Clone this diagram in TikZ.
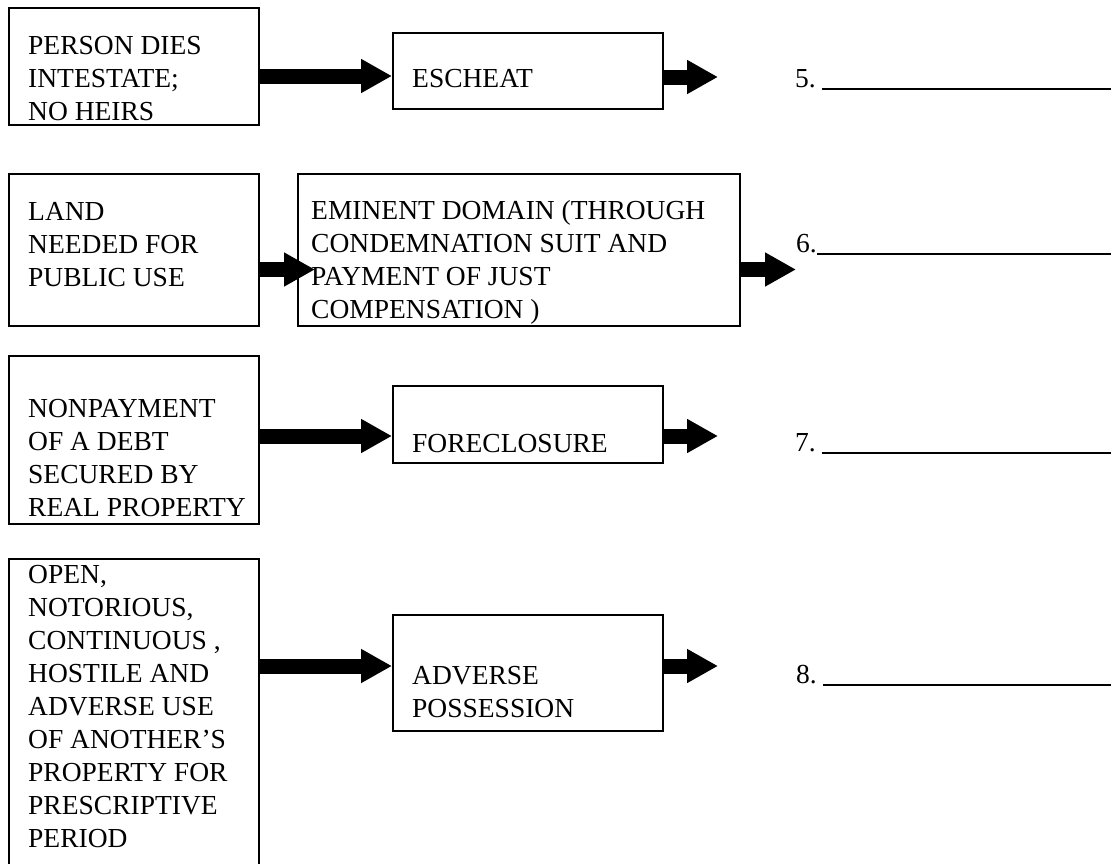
\documentclass[tikz,border=0pt]{standalone}
\usepackage{fontspec}
\setmainfont{Liberation Serif}
\usetikzlibrary{arrows.meta}
\begin{document}
\begin{tikzpicture}[x=1pt,y=-1pt,
  box/.style={draw, line width=1.6pt, inner sep=0pt, anchor=north west},
  txt/.style={anchor=base west, inner sep=0pt, align=left,
    font=\fontsize{27.5}{32.7}\selectfont},
  fat/.style={line width=15pt, -{Triangle[length=31pt,width=32pt]}}]
\useasboundingbox (0,0) rectangle (1111,863);
\clip (0,0) rectangle (1111,863);
\fill[white] (0,0) rectangle (1111,863);

% boxes
\node[box, minimum width=250pt, minimum height=117pt] (b1) at (8,7) {};
\node[box, minimum width=270pt, minimum height=76pt] (esc) at (392,32) {};
\node[box, minimum width=250pt, minimum height=152pt] (land) at (8,173) {};
\node[box, minimum width=442pt, minimum height=152pt] (emin) at (297,173) {};
\node[box, minimum width=250pt, minimum height=168pt] (nonpay) at (8,355) {};
\node[box, minimum width=270pt, minimum height=77pt] (fore) at (392,385) {};
\node[box, minimum width=250pt, minimum height=320pt] (open) at (8,558) {};
\node[box, minimum width=270pt, minimum height=116pt] (adv) at (392,614) {};

% texts (anchored at the baseline of their last line)
\node[txt] (tb1) at (28,120) {PERSON DIES\\INTESTATE;\\NO HEIRS};
\node[txt] (tesc) at (412,87) {ESCHEAT};
\node[txt] (tland) at (28,286) {LAND\\NEEDED FOR\\PUBLIC USE};
\node[txt] (temin) at (311,318) {EMINENT DOMAIN (THROUGH\\CONDEMNATION SUIT AND\\PAYMENT OF JUST\\COMPENSATION )};
\node[txt] (tnon) at (28,516) {NONPAYMENT\\OF A DEBT\\SECURED BY\\REAL PROPERTY};
\node[txt] (tfore) at (412,452) {FORECLOSURE};
\node[txt, font=\fontsize{27.5}{33}\selectfont] (topen) at (28,847) {OPEN,\\NOTORIOUS,\\CONTINUOUS ,\\HOSTILE AND\\ADVERSE USE\\OF ANOTHER’S\\PROPERTY FOR\\PRESCRIPTIVE\\PERIOD};
\node[txt] (tadv) at (412,717) {ADVERSE\\POSSESSION};

% answer blanks
\node[txt] (l5) at (795,87) {5.\hspace{6pt}\rule[-2.5pt]{289pt}{1.2pt}};
\node[txt] (l6) at (796,252) {6.\rule[-2.5pt]{294pt}{1.2pt}};
\node[txt] (l7) at (795,451) {7.\hspace{6pt}\rule[-2.5pt]{289pt}{1.2pt}};
\node[txt] (l8) at (796,683) {8.\hspace{6pt}\rule[-2.5pt]{289pt}{1.2pt}};

% free arrow ends
\coordinate (e1) at (718,77);
\coordinate (i2) at (315,269.5);
\coordinate (e2) at (796,269.5);
\coordinate (e3) at (718,436);
\coordinate (e4) at (718,666);

% arrows
\draw[fat] (b1.east |- 0,76) -- (esc.west |- 0,76);
\draw[fat] (esc.east |- e1) -- (e1);
\draw[fat] (land.east |- i2) -- (i2);
\draw[fat] (emin.east |- e2) -- (e2);
\draw[fat] (nonpay.east |- 0,436) -- (fore.west |- 0,436);
\draw[fat] (fore.east |- e3) -- (e3);
\draw[fat] (open.east |- 0,666) -- (adv.west |- 0,666);
\draw[fat] (adv.east |- e4) -- (e4);
\end{tikzpicture}
\end{document}
